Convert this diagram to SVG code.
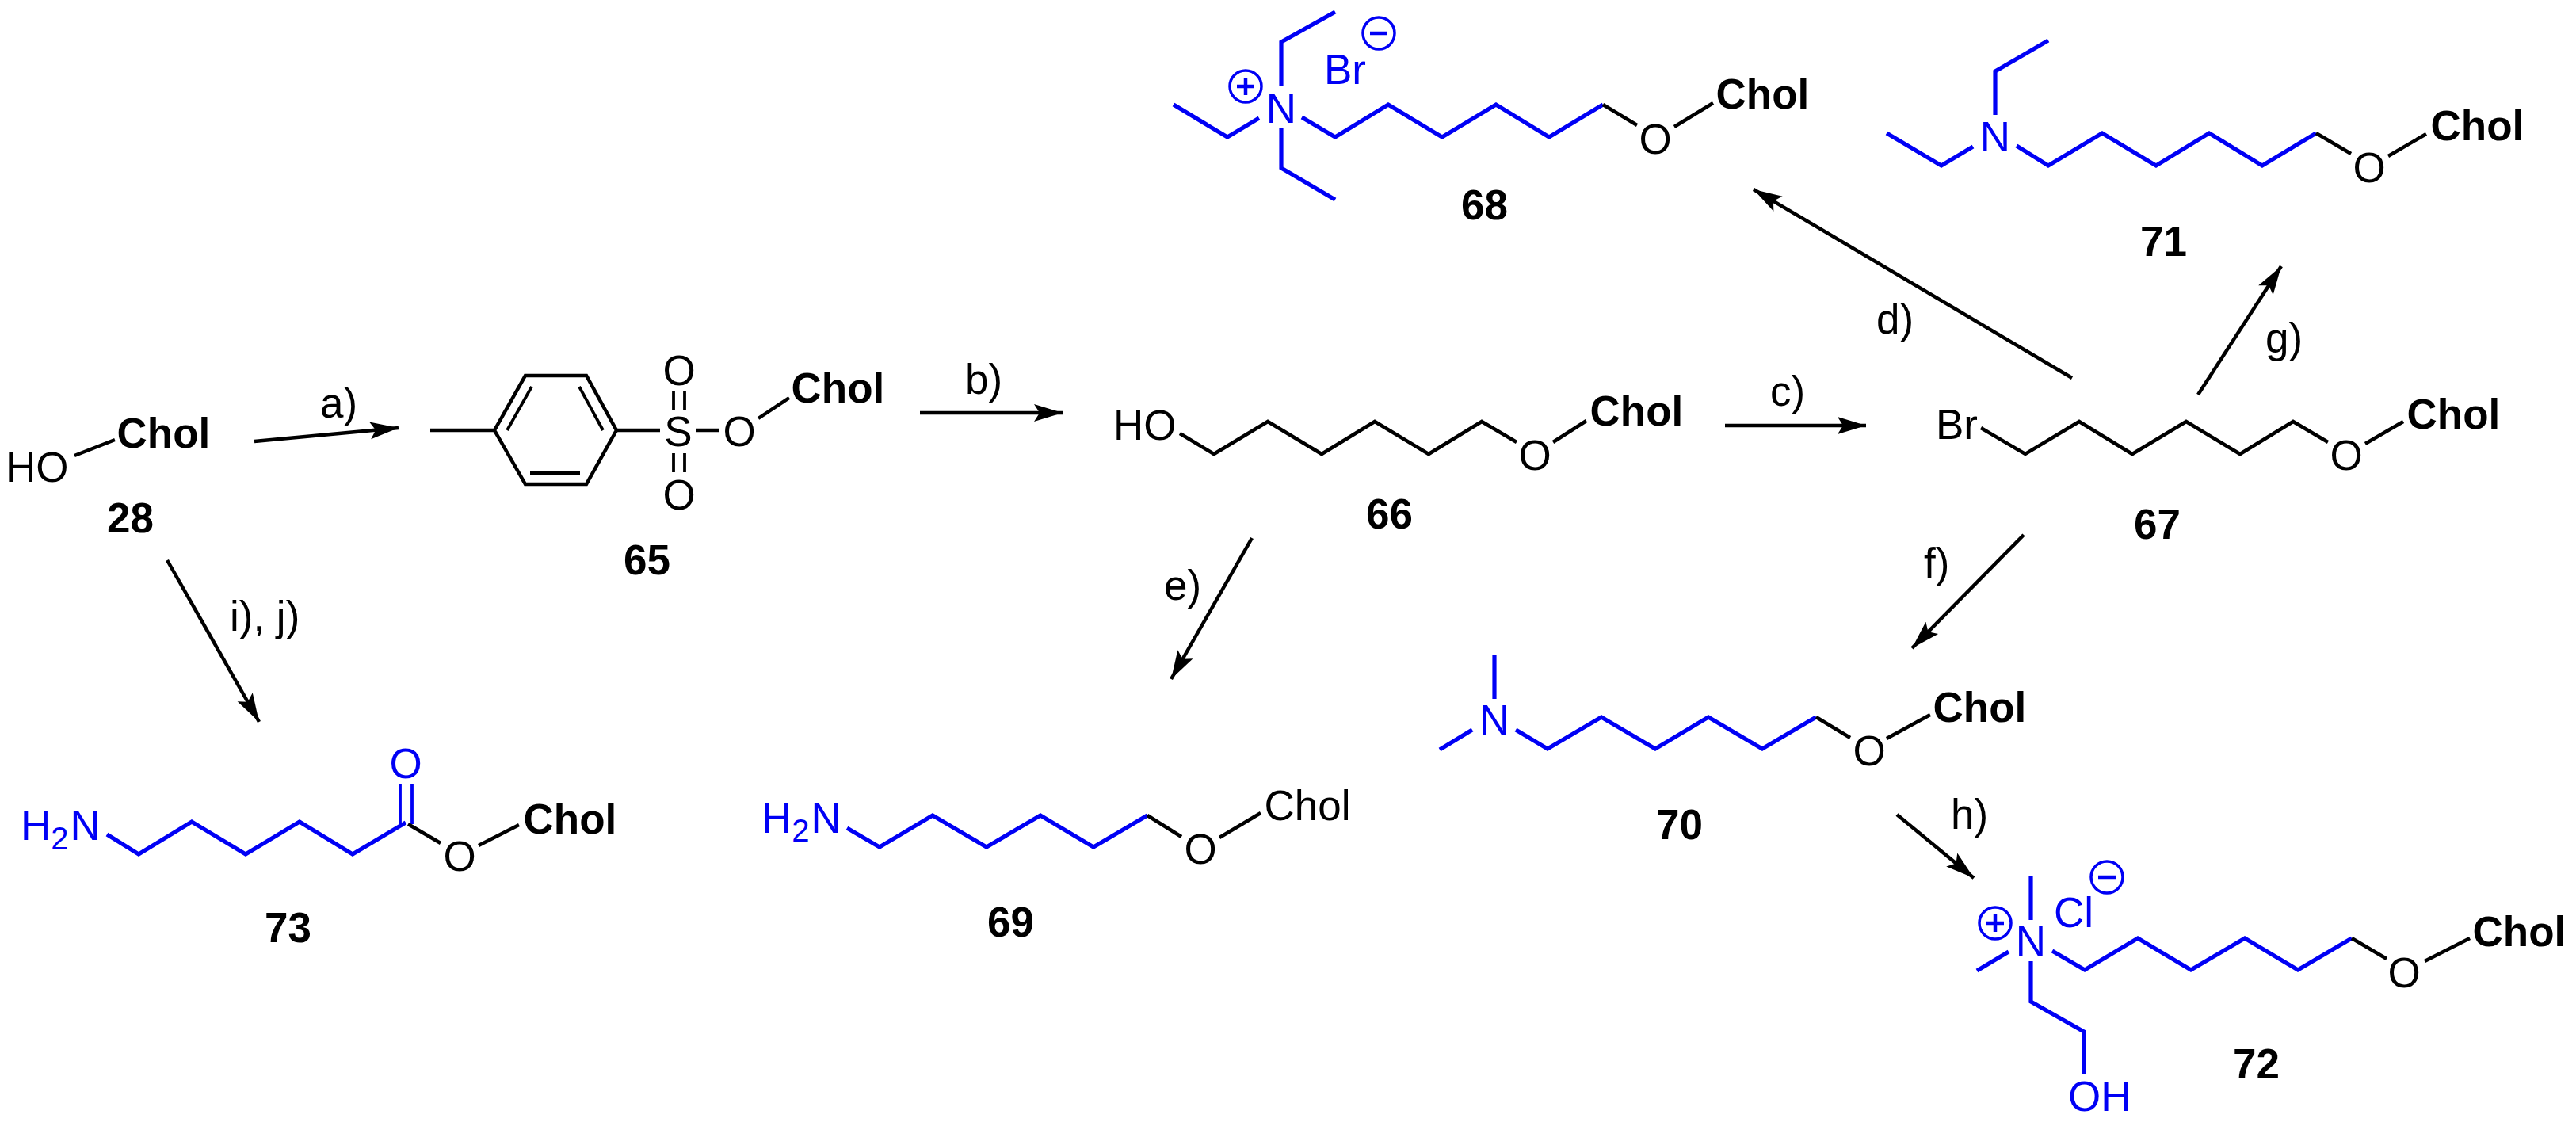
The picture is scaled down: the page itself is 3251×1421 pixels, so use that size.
<svg xmlns="http://www.w3.org/2000/svg" width="3251" height="1421" viewBox="0 0 3251 1421">
<style>
text{font-family:"Liberation Sans",Arial,sans-serif;font-size:53px;fill:#000}
.B{font-weight:700}
.c{fill:#0000f5}
.m{text-anchor:middle}
.k,.u,.a{fill:none;stroke-linecap:butt;stroke-linejoin:miter;stroke-width:4.5}
.k,.a{stroke:#000}
.u{stroke:#0000f5;stroke-width:5.2}
.t{stroke-width:3.8}
.ch{fill:none;stroke:#0000f5;stroke-width:3.5}
.ps{stroke:#0000f5;stroke-width:4.5;fill:none}
</style>
<defs>
<marker id="ah" markerUnits="userSpaceOnUse" markerWidth="42" markerHeight="26" viewBox="-38 -13 42 26" refX="0" refY="0" orient="auto">
<path d="M0,0L-36,-11L-29,0L-36,11Z" fill="#000"/>
</marker>
</defs>
<rect width="3251" height="1421" fill="#fff"/>
<g id="connectors">
<line class="a" x1="321" y1="557" x2="503" y2="540" marker-end="url(#ah)"/>
<line class="a" x1="1161" y1="521" x2="1341" y2="521" marker-end="url(#ah)"/>
<line class="a" x1="2177" y1="537" x2="2355" y2="537" marker-end="url(#ah)"/>
<line class="a" x1="2615" y1="477" x2="2213" y2="239" marker-end="url(#ah)"/>
<line class="a" x1="1580" y1="679" x2="1478" y2="857" marker-end="url(#ah)"/>
<line class="a" x1="2554" y1="675" x2="2413" y2="818" marker-end="url(#ah)"/>
<line class="a" x1="2774" y1="498" x2="2879" y2="336" marker-end="url(#ah)"/>
<line class="a" x1="2394" y1="1028" x2="2491" y2="1108" marker-end="url(#ah)"/>
<line class="a" x1="211" y1="707" x2="327" y2="911" marker-end="url(#ah)"/>
<text x="404" y="527">a)</text>
<text x="1218" y="497">b)</text>
<text x="2234" y="512">c)</text>
<text x="2368" y="421">d)</text>
<text x="1469" y="757">e)</text>
<text x="2428" y="729">f)</text>
<text x="2859" y="445">g)</text>
<text x="2462" y="1046">h)</text>
<text x="290" y="796">i), j)</text>
</g>
<g id="node-28">
<line class="k" x1="94" y1="575" x2="145" y2="555"/>
<text x="7" y="608">HO</text>
<text class="B" x="147.5" y="565">Chol</text>
<text class="B" x="135" y="672">28</text>
</g>
<g id="node-65">
<line class="k" x1="543" y1="543" x2="624" y2="543"/>
<polygon class="k" points="624,543 663,474 740,474 778,543 740,611 663,611"/>
<line class="k t" x1="671" y1="488" x2="640" y2="543"/>
<line class="k t" x1="731" y1="488" x2="761" y2="543"/>
<line class="k t" x1="669" y1="597" x2="732" y2="597"/>
<line class="k" x1="778" y1="543" x2="833" y2="543"/>
<line class="k" x1="879" y1="543" x2="908" y2="543"/>
<line class="k t" x1="850" y1="493" x2="850" y2="517"/>
<line class="k t" x1="864" y1="493" x2="864" y2="517"/>
<line class="k t" x1="850" y1="572" x2="850" y2="596"/>
<line class="k t" x1="864" y1="572" x2="864" y2="596"/>
<line class="k" x1="957" y1="528" x2="996" y2="502"/>
<text class="m" x="856" y="563">S</text>
<text class="m" x="857" y="486">O</text>
<text class="m" x="857" y="643">O</text>
<text class="m" x="933" y="563">O</text>
<text class="B" x="998.5" y="508">Chol</text>
<text class="B" x="787" y="725">65</text>
</g>
<g id="node-66">
<polyline class="k" points="1489,547 1532,573 1600,532 1668,573 1735,532 1803,573 1870,532 1914,558"/>
<line class="k" x1="1960" y1="558" x2="2002" y2="531"/>
<text x="1405" y="555">HO</text>
<text class="m" x="1937" y="593">O</text>
<text class="B" x="2006.5" y="537">Chol</text>
<text class="B" x="1724" y="667">66</text>
</g>
<g id="node-67">
<polyline class="k" points="2500,540 2556,573 2624,532 2691,573 2759,532 2827,573 2894,532 2938,558"/>
<line class="k" x1="2985" y1="560" x2="3033" y2="532"/>
<text x="2443" y="554">Br</text>
<text class="m" x="2961" y="593">O</text>
<text class="B" x="3037.5" y="541">Chol</text>
<text class="B" x="2693" y="680">67</text>
</g>
<g id="node-68">
<polyline class="u" points="1617,108 1617,53 1685,15"/>
<polyline class="u" points="1589,149 1549,173 1481,132"/>
<polyline class="u" points="1617,162 1617,212 1685,252"/>
<polyline class="u" points="1643,148 1685,173 1752,132 1820,173 1888,132 1955,173 2023,132"/>
<line class="k" x1="2023" y1="132" x2="2066" y2="158"/>
<line class="k" x1="2113" y1="160" x2="2162" y2="130"/>
<text class="m c" x="1617" y="155">N</text>
<circle class="ch" cx="1572" cy="109" r="20"/>
<path class="ps" d="M1561,109H1583M1572,98V120"/>
<text class="c" x="1671" y="106">Br</text>
<circle class="ch" cx="1740" cy="42" r="20"/>
<path class="ps" d="M1729,42H1751"/>
<text class="m" x="2089" y="194">O</text>
<text class="B" x="2165.5" y="137">Chol</text>
<text class="B" x="1844" y="277">68</text>
</g>
<g id="node-69">
<polyline class="u" points="1069,1045 1110,1069 1177,1029 1245,1069 1313,1029 1380,1069 1448,1029"/>
<line class="k" x1="1448" y1="1029" x2="1491" y2="1056"/>
<line class="k" x1="1539" y1="1057" x2="1591" y2="1026"/>
<text class="c" x="961" y="1051">H<tspan dy="11" font-size="40">2</tspan><tspan dy="-11" dx="2">N</tspan></text>
<text class="m" x="1515" y="1090">O</text>
<text x="1595.5" y="1035">Chol</text>
<text class="B" x="1246" y="1182">69</text>
</g>
<g id="node-70">
<line class="u" x1="1886" y1="826" x2="1886" y2="882"/>
<line class="u" x1="1858" y1="921" x2="1817" y2="946"/>
<polyline class="u" points="1913,921 1953,945 2021,905 2089,945 2156,905 2224,945 2292,905"/>
<line class="k" x1="2292" y1="905" x2="2335" y2="931"/>
<line class="k" x1="2381" y1="932" x2="2436" y2="902"/>
<text class="m c" x="1886" y="927">N</text>
<text class="m" x="2359" y="966">O</text>
<text class="B" x="2439.5" y="911">Chol</text>
<text class="B" x="2090" y="1059">70</text>
</g>
<g id="node-71">
<polyline class="u" points="2518,145 2518,90 2585,51"/>
<polyline class="u" points="2490,185 2450,209 2381,168"/>
<polyline class="u" points="2545,184 2585,209 2653,168 2721,209 2788,168 2855,209 2923,168"/>
<line class="k" x1="2923" y1="168" x2="2967" y2="194"/>
<line class="k" x1="3014" y1="197" x2="3062" y2="169"/>
<text class="m c" x="2518" y="191">N</text>
<text class="m" x="2990" y="230">O</text>
<text class="B" x="3067.5" y="177">Chol</text>
<text class="B" x="2701" y="323">71</text>
</g>
<g id="node-72">
<line class="u" x1="2563" y1="1106" x2="2563" y2="1161"/>
<line class="u" x1="2535" y1="1201" x2="2495" y2="1225"/>
<polyline class="u" points="2590,1200 2631,1224 2698,1184 2765,1224 2833,1184 2900,1224 2968,1184"/>
<polyline class="u" points="2563,1213 2563,1264 2630,1302 2630,1355"/>
<line class="k" x1="2968" y1="1184" x2="3012" y2="1210"/>
<line class="k" x1="3060" y1="1213" x2="3117" y2="1184"/>
<text class="m c" x="2563" y="1206">N</text>
<circle class="ch" cx="2518" cy="1165" r="20"/>
<path class="ps" d="M2507,1165H2529M2518,1154V1176"/>
<text class="c" x="2592" y="1170">Cl</text>
<circle class="ch" cx="2659" cy="1107" r="20"/>
<path class="ps" d="M2648,1107H2670"/>
<text class="c" x="2610" y="1402">OH</text>
<text class="m" x="3034" y="1246">O</text>
<text class="B" x="3120.5" y="1194">Chol</text>
<text class="B" x="2818" y="1361">72</text>
</g>
<g id="node-73">
<polyline class="u" points="135,1053 175,1078 242,1037 310,1078 378,1037 445,1078 512,1038"/>
<line class="u t" x1="505" y1="989" x2="505" y2="1040"/>
<line class="u t" x1="520" y1="989" x2="520" y2="1040"/>
<line class="k" x1="515" y1="1040" x2="556" y2="1064"/>
<line class="k" x1="604" y1="1067" x2="655" y2="1041"/>
<text class="c" x="26" y="1060">H<tspan dy="12" font-size="40">2</tspan><tspan dy="-12" dx="2">N</tspan></text>
<text class="m c" x="512" y="982">O</text>
<text class="m" x="580" y="1099">O</text>
<text class="B" x="660.5" y="1052">Chol</text>
<text class="B" x="334" y="1189">73</text>
</g>
</svg>
